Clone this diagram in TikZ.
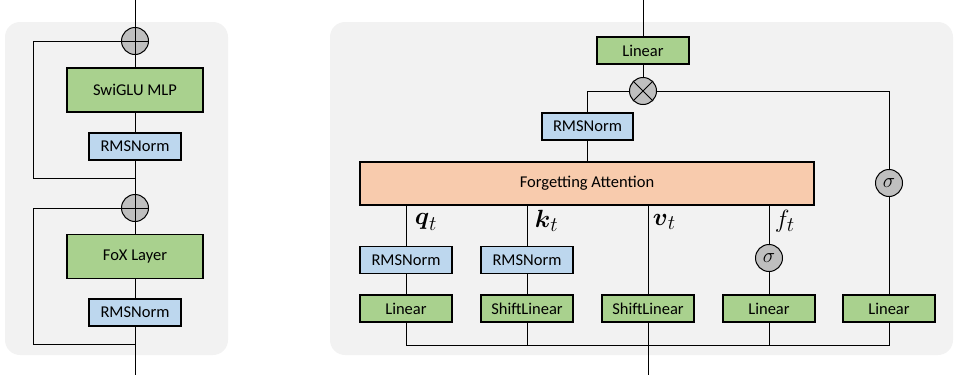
\documentclass[tikz,border=0pt]{standalone}
\usepackage{amsmath}
\usepackage[no-math]{fontspec}
\setmainfont{Carlito}
\usetikzlibrary{calc}
\definecolor{panel}{HTML}{F2F2F2}
\definecolor{linfill}{HTML}{A9D18E}
\definecolor{nrmfill}{HTML}{BDD7EE}
\definecolor{attfill}{HTML}{F8CBAD}
\definecolor{opfill}{HTML}{BFBFBF}
\begin{document}
\begin{tikzpicture}[x=1pt,y=-1pt,line width=1pt,
  box/.style={draw,line width=1.2pt,inner sep=0pt,minimum height=27pt,font=\fontsize{16.5}{18}\selectfont},
  lin/.style={box,fill=linfill,minimum width=92pt},
  nrm/.style={box,fill=nrmfill,minimum width=92pt},
  op/.style={draw,circle,fill=opfill,inner sep=0pt,minimum size=27pt,font=\fontsize{20}{22}\selectfont},
  lbl/.style={anchor=west,font=\fontsize{28}{30}\selectfont}]
\useasboundingbox (0,0) rectangle (956,375);
\fill [panel, rounded corners=15pt] (5,22) rectangle (228,355);
\fill [panel, rounded corners=15pt] (330,22) rectangle (953,355);
\node [op] (add1) at (135,41) {};
\node [lin, minimum width=136pt, minimum height=44pt] (mlp) at (135,90) {SwiGLU MLP};
\node [nrm] (norm1) at (135,146.5) {RMSNorm};
\coordinate (res1) at (135,178);
\node [op] (add2) at (135,208) {};
\node [lin, minimum width=136pt, minimum height=44pt] (fox) at (135,256.5) {FoX Layer};
\node [nrm] (norm2) at (135,312.5) {RMSNorm};
\coordinate (res2) at (135,344);
\coordinate (ltop) at (135,0);
\coordinate (lbot) at (135,375);
\draw (add1.north) -- (add1.south) (add1.west) -- (add1.east);
\draw (add2.north) -- (add2.south) (add2.west) -- (add2.east);
\draw (ltop) -- (add1);
\draw (add1) -- (mlp);
\draw (mlp) -- (norm1);
\draw (norm1) -- (add2);
\draw (add2) -- (fox);
\draw (fox) -- (norm2);
\draw (norm2) -- (lbot);
\draw (res1) -- ++(-102,0) |- (add1);
\draw (res2) -- ++(-102,0) |- (add2);
\node [lin] (olin) at (643,50.5) {Linear};
\node [op] (mul) at (643,91) {};
\node [nrm, minimum width=91pt] (onorm) at (587.5,126.5) {RMSNorm};
\node [box, fill=attfill, minimum width=454pt, minimum height=43pt] (attn) at (587,183.5) {Forgetting Attention};
\node [op] (gsig) at (889,183) {$\sigma$};
\node [nrm] (qnorm) at (406,260) {RMSNorm};
\node [nrm] (knorm) at (527,260) {RMSNorm};
\node [op] (fsig) at (769,258) {$\sigma$};
\node [lin] (qlin) at (406,308.5) {Linear};
\node [lin] (klin) at (527,308.5) {ShiftLinear};
\node [lin] (vlin) at (648,308.5) {ShiftLinear};
\node [lin] (flin) at (769,308.5) {Linear};
\node [lin] (glin) at (889,308.5) {Linear};
\node [lbl] (ql) at (411,222) {$\boldsymbol{q}_t$};
\node [lbl] (kl) at (531,221) {$\boldsymbol{k}_t$};
\node [lbl] (vl) at (649,222) {$\boldsymbol{v}_t$};
\node [lbl] (fl) at (771,221) {$f_t$};
\coordinate (rtop) at (643,0);
\coordinate (bus) at (406,345);
\coordinate (rbot) at (648,375);
\draw (mul.north west) -- (mul.south east) (mul.north east) -- (mul.south west);
\draw (rtop) -- (olin);
\draw (olin) -- (mul);
\draw (mul) -| (onorm);
\draw (onorm) -- (onorm |- attn.north);
\draw (mul) -| (gsig);
\draw (gsig) -- (glin);
\draw (attn.south -| qnorm) -- (qnorm);
\draw (attn.south -| knorm) -- (knorm);
\draw (attn.south -| vlin) -- (vlin);
\draw (attn.south -| fsig) -- (fsig);
\draw (qnorm) -- (qlin);
\draw (knorm) -- (klin);
\draw (fsig) -- (flin);
\draw (qlin) -- (bus) -| (glin);
\draw (klin) -- (klin |- bus);
\draw (flin) -- (flin |- bus);
\draw (vlin) -- (rbot);
\end{tikzpicture}
\end{document}
